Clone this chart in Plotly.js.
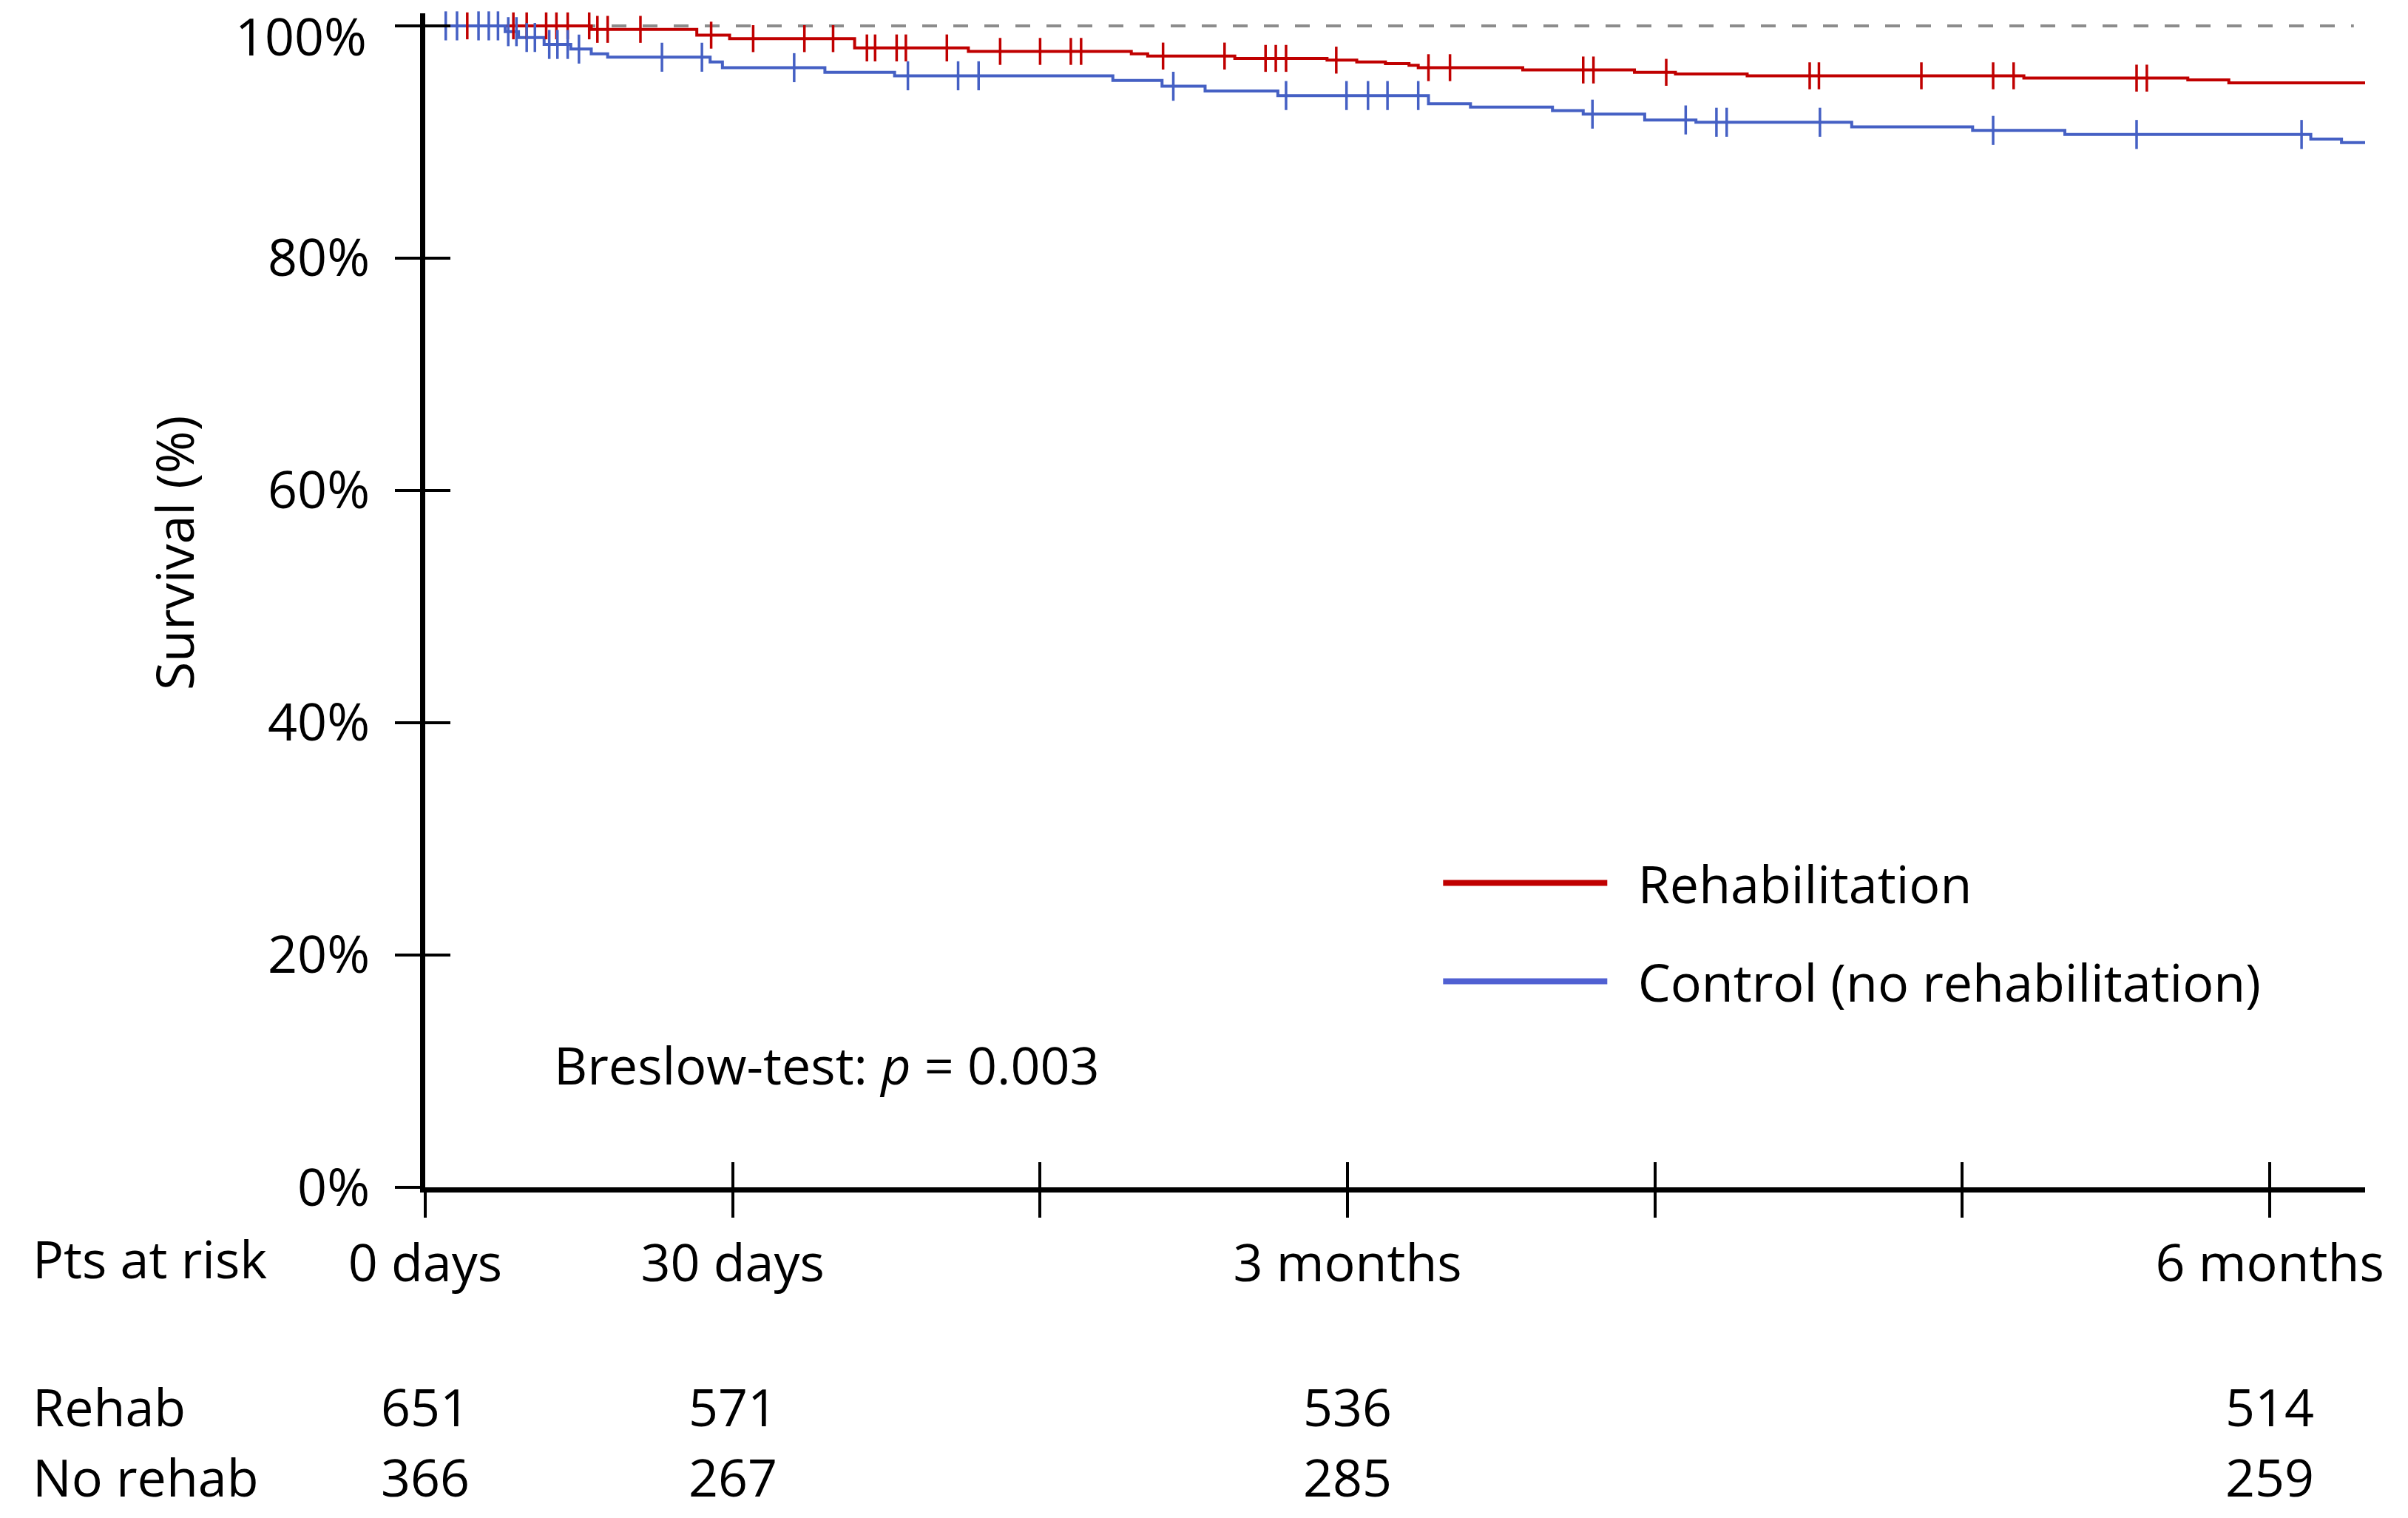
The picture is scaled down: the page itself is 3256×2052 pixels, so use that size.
<!DOCTYPE html>
<html><head><meta charset="utf-8">
<script src="https://cdn.plot.ly/plotly-3.0.1.min.js"></script>
<style>html,body{margin:0;padding:0;background:#fff}#chart{width:3256px;height:2052px}</style>
</head><body><div id="chart"></div>
<script>
// ---- Data (days, survival %) ----
const rehabTimes = [0, 16.2, 26.5, 29.7, 41.9, 53.0, 68.9, 70.5, 79.0, 88.0, 90.9, 93.7, 96.0, 96.9, 107.1, 118, 122, 129, 156, 172, 176, 189.3];
const rehabSurv  = [100, 99.7, 99.2, 98.9, 98.1, 97.8, 97.6, 97.4, 97.2, 97.05, 96.9, 96.75, 96.6, 96.4, 96.2, 96.0, 95.85, 95.7, 95.5, 95.35, 95.1, 95.1];
const rehabCensor = [4.1, 8.6, 9.9, 11.8, 12.8, 13.9, 16.0, 16.8, 17.8, 21.0, 27.9, 32.0, 37.0, 39.8, 43.1, 43.9, 46.0, 46.9, 50.9, 56.1, 60.0, 63.0, 64.0, 72.0, 78.0, 82.0, 83.0, 84.0, 88.9, 97.9, 100.0, 113.0, 114.0, 121.1, 135.1, 136.0, 146.0, 153.0, 155.0, 167.0, 168.0];

const controlTimes = [0, 7.8, 9.1, 11.6, 14.2, 16.2, 17.8, 27.8, 29.0, 39.0, 45.8, 67.1, 71.9, 76.1, 83.2, 97.9, 102, 110, 113, 119, 124, 139.2, 151, 160, 184, 187, 189.3];
const controlSurv  = [100, 99.5, 99.0, 98.4, 98.0, 97.6, 97.3, 96.9, 96.4, 96.0, 95.7, 95.3, 94.8, 94.4, 94.0, 93.3, 93.0, 92.7, 92.4, 91.9, 91.7, 91.3, 91.0, 90.65, 90.25, 89.95, 89.95];
const controlCensor = [2.0, 3.1, 5.2, 6.2, 7.1, 8.1, 8.9, 9.9, 10.7, 12.1, 12.9, 13.9, 15.0, 23.1, 27.0, 36.0, 47.1, 52.0, 54.0, 73.0, 84.0, 89.9, 92.0, 93.9, 96.9, 113.9, 123.0, 126.0, 127.0, 136.1, 153.0, 167.0, 183.1];

const seriesNames = ["Rehabilitation", "Control (no rehabilitation)"];
const refLevel = 100;
const refEnd = 188.2;

const tickDays = [0, 30, 60, 90, 120, 150, 180];
const tickText = ["0 days", "30 days", "", "3 months", "", "", "6 months"];
const yTicks = [0, 20, 40, 60, 80, 100];
const yTickText = ["0%", "20%", "40%", "60%", "80%", "100%"];

const riskTimes = [0, 30, 90, 180];
const riskRehab = [651, 571, 536, 514];
const riskNoRehab = [366, 267, 285, 259];
const riskRowLabels = ["Rehab", "No rehab"];
const riskHeader = "Pts at risk";
const testText = "Breslow-test: <i>p</i> = 0.003";
const yTitle = "Survival (%)";

// ---- helpers ----
function survAt(times, surv, t) {
  let v = surv[0];
  for (let i = 0; i < times.length; i++) { if (times[i] <= t) v = surv[i]; }
  return v;
}

const RED = '#C00000', BLUE = '#4560C4';
const LEG_BLUE = '#5060D2';
const FONT = 'Open Sans, Noto Sans, sans-serif';
const FS = 70;
const GAP = '\u00a0\u00a0';

const traces = [
  {x: [0, refEnd], y: [refLevel, refLevel], mode: 'lines', line: {color: '#8c8c8c', width: 4, dash: '20px,22px'}, showlegend: false, hoverinfo: 'skip'},
  {x: rehabTimes, y: rehabSurv, mode: 'lines', line: {shape: 'hv', color: RED, width: 4}, name: seriesNames[0], showlegend: false},
  {x: controlTimes, y: controlSurv, mode: 'lines', line: {shape: 'hv', color: BLUE, width: 4}, name: seriesNames[1], showlegend: false},
  {x: rehabCensor, y: rehabCensor.map(t => survAt(rehabTimes, rehabSurv, t)), mode: 'markers', cliponaxis: false,
   marker: {symbol: 'line-ns', size: 26, line: {color: RED, width: 3.5}}, showlegend: false},
  {x: controlCensor, y: controlCensor.map(t => survAt(controlTimes, controlSurv, t)), mode: 'markers', cliponaxis: false,
   marker: {symbol: 'line-ns', size: 28, line: {color: BLUE, width: 3.5}}, showlegend: false},
  // legend entries (thicker keys)
  {x: [null], y: [null], mode: 'lines', line: {color: RED, width: 8}, name: GAP + seriesNames[0], legendgroup: 'a'},
  {x: [null], y: [null], mode: 'lines', line: {color: LEG_BLUE, width: 8}, name: GAP + seriesNames[1], legendgroup: 'b'},
  {x: [0], y: [0], xaxis: 'x2', yaxis: 'y2', mode: 'markers', marker: {opacity: 0}, showlegend: false, hoverinfo: 'skip'}
];

const annotations = [];
annotations.push({text: testText, xref: 'x', yref: 'y', x: 12.4, y: 10.6, xanchor: 'left', yanchor: 'middle', showarrow: false, font: {family: FONT, size: FS, color: '#000'}});
annotations.push({text: yTitle, textangle: -90, xref: 'paper', yref: 'paper', x: -0.1296, y: 0.540, xanchor: 'center', yanchor: 'middle', showarrow: false, font: {family: FONT, size: FS, color: '#000'}});
// top y tick label sits slightly below its tick (as in the reference) so it stays inside the page
const topIdx = yTicks.length - 1;
annotations.push({text: yTickText[topIdx], xref: 'paper', yref: 'y', x: -0.0294, y: yTicks[topIdx], yshift: -13, xanchor: 'right', yanchor: 'middle', showarrow: false, font: {family: FONT, size: FS, color: '#000'}});
annotations.push({text: riskHeader, xref: 'paper', yref: 'paper', x: -0.2032, y: -0.0605, xanchor: 'left', yanchor: 'middle', showarrow: false, font: {family: FONT, size: FS, color: '#000'}});
const rowY = [-0.1865, -0.2465];
[riskRehab, riskNoRehab].forEach((row, r) => {
  annotations.push({text: riskRowLabels[r], xref: 'paper', yref: 'paper', x: -0.2032, y: rowY[r], xanchor: 'left', yanchor: 'middle', showarrow: false, font: {family: FONT, size: FS, color: '#000'}});
  row.forEach((v, i) => annotations.push({text: String(v), xref: 'x', yref: 'paper', x: riskTimes[i], y: rowY[r], xanchor: 'center', yanchor: 'middle', showarrow: false, font: {family: FONT, size: FS, color: '#000'}}));
});

const axisYText = yTickText.map((t, i) => (i === topIdx ? '' : t));

const axCommon = {showgrid: false, zeroline: false, ticklen: 34, tickwidth: 4, tickcolor: '#000', fixedrange: true, ticklabeloverflow: 'allow'};
const layout = {
  width: 3256, height: 2052,
  margin: {l: 575, r: 58, t: 18, b: 447, pad: 0},
  paper_bgcolor: '#fff', plot_bgcolor: '#fff',
  font: {family: FONT, size: FS, color: '#000'},
  xaxis: Object.assign({}, axCommon, {range: [0, 189.3], tickmode: 'array', tickvals: tickDays, ticktext: tickText, ticks: 'outside',
    showline: true, linewidth: 7, linecolor: '#000', tickfont: {family: FONT, size: FS, color: '#000'}, ticklabelstandoff: 2}),
  yaxis: Object.assign({}, axCommon, {range: [0, 101.08], tickmode: 'array', tickvals: yTicks, ticktext: axisYText, ticks: 'outside',
    showline: true, linewidth: 7, linecolor: '#000', tickfont: {family: FONT, size: FS, color: '#000'}, ticklabelstandoff: 20}),
  xaxis2: Object.assign({}, axCommon, {overlaying: 'x', anchor: 'y', side: 'bottom', range: [0, 189.3], tickmode: 'array', tickvals: tickDays, ticks: 'inside', showticklabels: false, showline: false}),
  yaxis2: Object.assign({}, axCommon, {overlaying: 'y', anchor: 'x', side: 'left', range: [0, 101.08], tickmode: 'array', tickvals: yTicks, ticks: 'inside', showticklabels: false, showline: false}),
  showlegend: true,
  legend: {x: 0.5228, y: 0.292, xanchor: 'left', yanchor: 'top', bgcolor: 'rgba(0,0,0,0)', borderwidth: 0,
    font: {family: FONT, size: FS, color: '#000'}, itemwidth: 222, tracegroupgap: 39, traceorder: 'grouped'},
  annotations: annotations
};

Plotly.newPlot('chart', traces, layout, {staticPlot: true, displayModeBar: false});
</script>
</body></html>
